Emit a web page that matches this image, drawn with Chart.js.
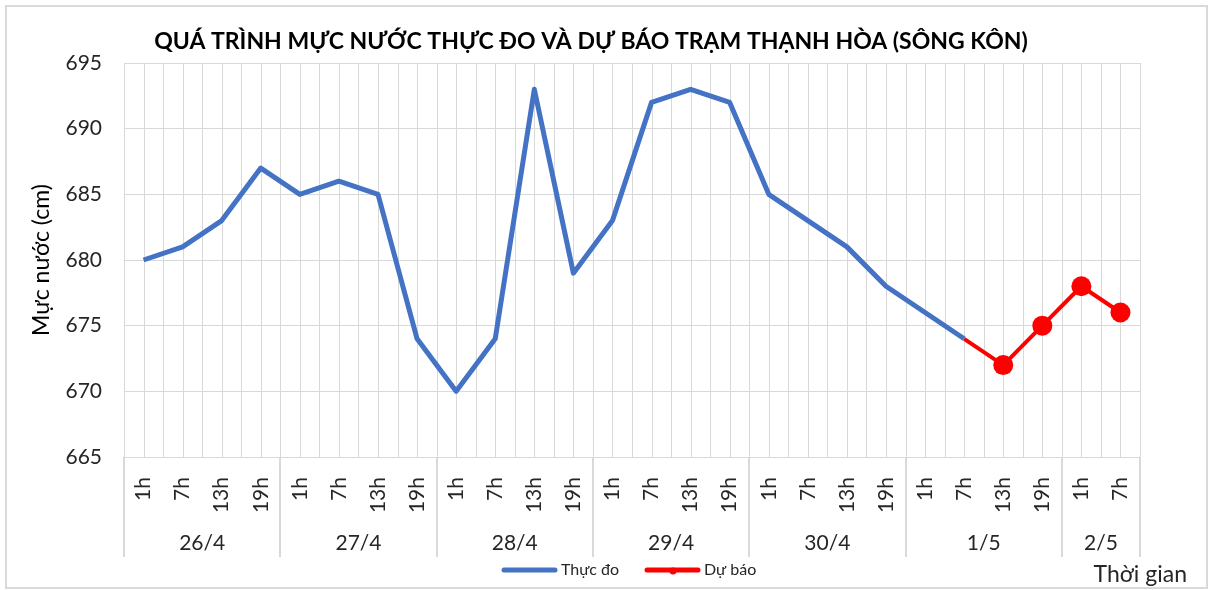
<!DOCTYPE html>
<html>
<head>
<meta charset="utf-8">
<script src="https://cdn.jsdelivr.net/npm/chart.js@4"></script>
<style>
  body { margin: 0; background: #fff; }
  canvas { display: block; }
</style>
</head>
<body>
<canvas id="levelChart" width="1211" height="590"></canvas>
<script>
// Data
const hourLabels = ['1h', '7h', '13h', '19h', '1h', '7h', '13h', '19h', '1h', '7h', '13h', '19h',
    '1h', '7h', '13h', '19h', '1h', '7h', '13h', '19h', '1h', '7h', '13h', '19h', '1h', '7h'];
const dayLabels = ['26/4', '27/4', '28/4', '29/4', '30/4', '1/5', '2/5'];
const daySizes = [4, 4, 4, 4, 4, 4, 2];
const observed = [680, 681, 683, 687, 685, 686, 685, 674, 670, 674, 693, 679, 683, 692, 693, 692,
    685, 683, 681, 678, 676, 674, null, null, null, null];
const forecast = [null, null, null, null, null, null, null, null, null, null, null, null, null, null,
    null, null, null, null, null, null, null, 674, 672, 675, 678, 676];
const yTicks = [665, 670, 675, 680, 685, 690, 695];

const FONT = 'Lato';
const BLUE = '#4472C4';
const RED = '#FF0000';
const GRID = '#d9d9d9';
const TEXT = '#262626';

// gridlines, day groups, legend, titles
const decorPlugin = {
    id: 'decor',
    beforeDatasetsDraw(chart) {
        const { ctx, chartArea: a, scales: { x } } = chart;
        ctx.save();
        ctx.strokeStyle = GRID;
        ctx.lineWidth = 1;
        ctx.beginPath();
        for (let i = 0; i < hourLabels.length; i++) {
            const cx = Math.round(x.getPixelForValue(i)) + 0.5;
            ctx.moveTo(cx, a.top);
            ctx.lineTo(cx, a.bottom);
            const bx = i < hourLabels.length - 1
                ? Math.round((x.getPixelForValue(i) + x.getPixelForValue(i + 1)) / 2) + 0.5
                : Math.round(a.right) + 0.5;
            ctx.moveTo(bx, a.top);
            ctx.lineTo(bx, a.bottom);
        }
        ctx.moveTo(Math.round(a.left) + 0.5, a.top);
        ctx.lineTo(Math.round(a.left) + 0.5, a.bottom);
        ctx.stroke();
        ctx.restore();
    },
    afterDraw(chart) {
        const { ctx, chartArea: a, scales: { x } } = chart;
        ctx.save();

        // day separators and labels
        ctx.strokeStyle = GRID;
        ctx.lineWidth = 2;
        ctx.fillStyle = TEXT;
        ctx.font = `21px ${FONT}`;
        ctx.textAlign = 'center';
        ctx.textBaseline = 'middle';
        let start = 0;
        const edge = (i) => i <= 0 ? a.left
            : i >= hourLabels.length ? a.right
            : (x.getPixelForValue(i - 1) + x.getPixelForValue(i)) / 2;
        ctx.beginPath();
        ctx.moveTo(Math.round(a.left), a.bottom);
        ctx.lineTo(Math.round(a.left), a.bottom + 100);
        daySizes.forEach((n, d) => {
            const l = edge(start), r = edge(start + n);
            ctx.moveTo(Math.round(r), a.bottom);
            ctx.lineTo(Math.round(r), a.bottom + 100);
            ctx.fillText(dayLabels[d], (l + r) / 2, a.bottom + 86);
            start += n;
        });
        ctx.stroke();

        // chart title
        ctx.fillStyle = '#000';
        ctx.font = `bold 23px ${FONT}`;
        ctx.fillText('QUÁ TRÌNH MỰC NƯỚC THỰC ĐO VÀ DỰ BÁO TRẠM THẠNH HÒA (SÔNG KÔN)', 591, 42);

        // legend
        ctx.lineCap = 'round';
        ctx.lineWidth = 5;
        ctx.strokeStyle = BLUE;
        ctx.beginPath();
        ctx.moveTo(504, 570);
        ctx.lineTo(555, 570);
        ctx.stroke();
        ctx.strokeStyle = RED;
        ctx.beginPath();
        ctx.moveTo(647, 570);
        ctx.lineTo(698, 570);
        ctx.stroke();
        ctx.fillStyle = RED;
        ctx.beginPath();
        ctx.arc(673, 571, 3.5, 0, Math.PI * 2);
        ctx.fill();
        ctx.fillStyle = TEXT;
        ctx.font = `16px ${FONT}`;
        ctx.textAlign = 'left';
        ctx.fillText('Thực đo', 561, 570);
        ctx.fillText('Dự báo', 704, 570);

        // x axis title
        ctx.font = `23px ${FONT}`;
        ctx.textAlign = 'right';
        ctx.fillText('Thời gian', 1187, 575);

        // outer frame
        ctx.strokeStyle = GRID;
        ctx.lineWidth = 2;
        ctx.strokeRect(6, 6, 1201, 582);
        ctx.restore();
    }
};

new Chart(document.getElementById('levelChart'), {
    type: 'line',
    data: {
        labels: hourLabels,
        datasets: [
            {
                label: 'Thực đo',
                data: observed,
                borderColor: BLUE,
                backgroundColor: BLUE,
                borderWidth: 5,
                borderJoinStyle: 'round',
                pointRadius: 0,
                tension: 0,
                fill: false,
                spanGaps: false
            },
            {
                label: 'Dự báo',
                data: forecast,
                borderColor: RED,
                backgroundColor: RED,
                borderWidth: 4,
                borderJoinStyle: 'round',
                pointRadius: (c) => c.dataIndex > 21 ? 10 : 0,
                pointBorderWidth: 0,
                pointBackgroundColor: RED,
                tension: 0,
                fill: false
            }
        ]
    },
    options: {
        responsive: false,
        animation: false,
        devicePixelRatio: 1,
        layout: { padding: { top: 63, right: 71, bottom: 33, left: 0 } },
        plugins: {
            legend: { display: false },
            title: { display: false },
            tooltip: { enabled: false }
        },
        scales: {
            x: {
                offset: true,
                grid: { display: false },
                border: { display: false },
                ticks: {
                    autoSkip: false,
                    minRotation: 90,
                    maxRotation: 90,
                    padding: 12,
                    color: TEXT,
                    font: { family: FONT, size: 21 }
                },
                afterFit: (s) => { s.height = 100; }
            },
            y: {
                min: 665,
                max: 695,
                afterBuildTicks: (s) => { s.ticks = yTicks.map(v => ({ value: v })); },
                grid: { color: GRID, drawTicks: false },
                border: { display: false },
                ticks: {
                    padding: 22,
                    color: TEXT,
                    font: { family: FONT, size: 21 }
                },
                title: {
                    display: true,
                    text: 'Mực nước (cm)',
                    color: '#000',
                    font: { family: FONT, size: 23 },
                    padding: { top: 28, bottom: 0 }
                },
                afterFit: (s) => { s.width = 124; }
            }
        }
    },
    plugins: [decorPlugin]
});
</script>
</body>
</html>
